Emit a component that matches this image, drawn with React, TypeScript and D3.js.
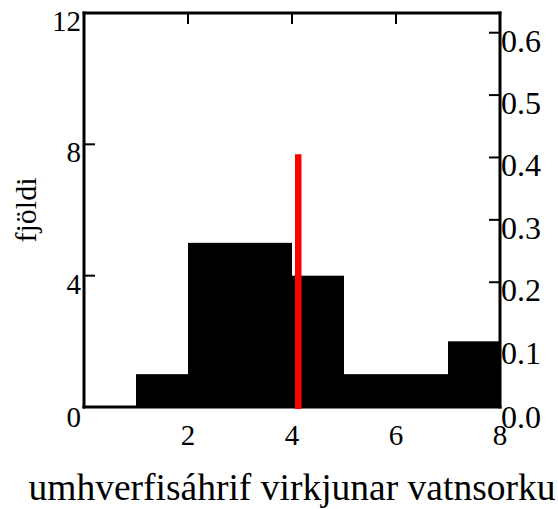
import React from "react";
import * as d3 from "d3";

const binStarts = [0, 1, 2, 3, 4, 5, 6, 7];
const binWidth = 1;
const counts = [0, 1, 5, 5, 4, 1, 1, 2];
const leftTicks = [0, 4, 8, 12];
const rightTicks = [0.0, 0.1, 0.2, 0.3, 0.4, 0.5, 0.6];
const xTicks = [2, 4, 6, 8];
const refValue = 4.12;
const refHeight = 7.7;
const xTitle = "umhverfisáhrif virkjunar vatnsorku";
const yTitle = "fjöldi";

const W = 558;
const H = 509;
const L = 84, R = 500, T = 13, B = 407;
const FONT = '"Liberation Serif", "Times New Roman", Times, serif';

export default function App() {
  const total = d3.sum(counts);
  const x = d3.scaleLinear().domain([0, 8]).range([L, R]);
  const y = d3.scaleLinear().domain([0, 12]).range([B, T]);
  const yR = d3.scaleLinear().domain([0, 12 / total]).range([B, T]);
  const tickLen = 11;
  const ts = { fontFamily: FONT } as React.CSSProperties;
  return (
    <svg width={W} height={H} style={{ position: "absolute", left: 0, top: 0, background: "#fff", fontFamily: FONT }}>
      <line x1={L} y1={T} x2={R} y2={T} stroke="#000" strokeWidth={3} strokeLinecap="square" />
      <line x1={L} y1={T} x2={L} y2={B} stroke="#000" strokeWidth={3} strokeLinecap="square" />
      <line x1={R} y1={T} x2={R} y2={B} stroke="#000" strokeWidth={3} strokeLinecap="square" />
      <line x1={L} y1={B} x2={R} y2={B} stroke="#000" strokeWidth={3} strokeLinecap="square" />
      {xTicks.filter(t => t < 8).map(t => (
        <line key={"tt" + t} x1={x(t)} x2={x(t)} y1={T} y2={T + tickLen} stroke="#000" strokeWidth={2} />
      ))}
      {leftTicks.filter(t => t > 0 && t < 12).map(t => (
        <line key={"lt" + t} x1={L} x2={L + tickLen} y1={y(t)} y2={y(t)} stroke="#000" strokeWidth={2} />
      ))}
      {rightTicks.filter(t => t > 0).map(t => (
        <line key={"rt" + t} x1={R - tickLen} x2={R} y1={yR(t)} y2={yR(t)} stroke="#000" strokeWidth={2} />
      ))}
      {binStarts.map((s, i) => (
        <rect key={"b" + i} x={x(s)} y={y(counts[i])} width={x(s + binWidth) - x(s)} height={B - y(counts[i])} fill="#000" />
      ))}
      <line x1={x(refValue)} x2={x(refValue)} y1={y(refHeight)} y2={B + 2} stroke="#ff0000" strokeWidth={6.5} />
      {leftTicks.map(t => (
        <text key={"ll" + t} style={ts} x={L - 3} y={y(t) + (t === 0 ? 20 : 18)} textAnchor="end" fontSize={29}>{t}</text>
      ))}
      {rightTicks.map(t => (
        <text key={"rl" + t} style={ts} x={R + 1} y={yR(t) + (t === 0 ? 21 : 19)} textAnchor="start" fontSize={32}>{t.toFixed(1)}</text>
      ))}
      {xTicks.map(t => (
        <text key={"xl" + t} style={ts} x={x(t)} y={445} textAnchor="middle" fontSize={29}>{t}</text>
      ))}
      <text style={ts} x={(L + R) / 2} y={500} textAnchor="middle" fontSize={37.5}>{xTitle}</text>
      <text style={ts} transform={`translate(36,${(T + B) / 2}) rotate(-90)`} textAnchor="middle" fontSize={30}>{yTitle}</text>
    </svg>
  );
}
